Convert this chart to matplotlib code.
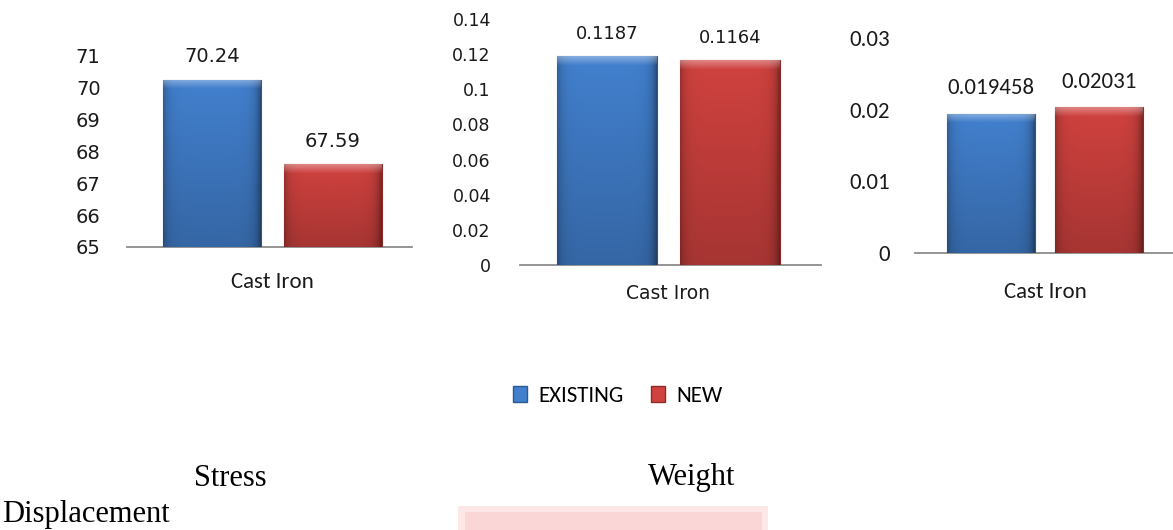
import numpy as np
import matplotlib
matplotlib.use("Agg")
import matplotlib.pyplot as plt
from matplotlib.patches import Patch, Rectangle
from matplotlib import font_manager

# ---- data ----
category = ["Cast Iron"]
series_names = ["EXISTING", "NEW"]
stress_vals = [70.24, 67.59]
weight_vals = [0.1187, 0.1164]
disp_vals = [0.019458, 0.02031]
stress_labels = ["70.24", "67.59"]
weight_labels = ["0.1187", "0.1164"]
disp_labels = ["0.019458", "0.02031"]
stress_ticks = [65, 66, 67, 68, 69, 70, 71]
weight_ticks = [0, 0.02, 0.04, 0.06, 0.08, 0.1, 0.12, 0.14]
weight_ticklabels = ["0", "0.02", "0.04", "0.06", "0.08", "0.1", "0.12", "0.14"]
disp_ticks = [0, 0.01, 0.02, 0.03]
disp_ticklabels = ["0", "0.01", "0.02", "0.03"]
bottom_titles = ["Stress", "Weight", "Displacement"]

# ---- styles ----
avail = {f.name for f in font_manager.fontManager.ttflist}
CAL = "Carlito" if "Carlito" in avail else "Lato"
BLUE = np.array([66, 128, 206]) / 255
RED = np.array([208, 66, 63]) / 255
BLUE_EDGE = "#2b5a92"
RED_EDGE = "#8e2a28"

W, H = 1173, 530
fig = plt.figure(figsize=(W / 100, H / 100), dpi=100)


def fx(px):
    return px / W


def fy(py):
    return 1 - py / H


def shade_bar(ax, bar, base):
    x0, y0 = bar.get_x(), bar.get_y()
    w, h = bar.get_width(), bar.get_height()
    p0 = ax.transData.transform((x0, y0))
    p1 = ax.transData.transform((x0 + w, y0 + h))
    hpx = abs(p1[1] - p0[1])
    wpx = abs(p1[0] - p0[0])
    ny, nx = int(max(hpx, 20)), int(max(wpx, 20))
    u = np.linspace(0, 1, nx)[None, :]
    v = np.linspace(1, 0, ny)[:, None]  # 1 at top row
    f = 0.80 + 0.20 * v
    edge_w = 5.0 / wpx
    e = 1 - 0.25 * np.exp(-u / edge_w) - 0.40 * np.exp(-(1 - u) / edge_w)
    img = base[None, None, :] * (f * e)[:, :, None]
    # soft top bevel: lighter band fading downward over ~9 px
    dtop = (1 - v) * hpx  # pixels from top
    glow = np.clip(1 - dtop / 9.0, 0, 1) * 0.35
    glow = np.broadcast_to(glow, (ny, nx))
    img = img * (1 - glow[:, :, None]) + glow[:, :, None] * 1.0
    img = np.clip(img, 0, 1)
    im = ax.imshow(img, extent=[x0, x0 + w, y0, y0 + h], aspect="auto",
                   zorder=bar.get_zorder() + 0.1, interpolation="bilinear")
    im.set_clip_path(bar)


def panel(rect, vals, labels, ticks, ticklabels, xlim, offset, width,
          tick_font, tick_size, tick_pad, lab_font, lab_size, lab_gap,
          cat_font, cat_size, cat_pad, ylim):
    ax = fig.add_axes(rect)
    ax.set_xlim(*xlim)
    ax.set_ylim(*ylim)
    bottom = ylim[0]
    xs = [-offset, offset]
    bars = []
    for x, v, c, ec in zip(xs, vals, [BLUE, RED], [BLUE_EDGE, RED_EDGE]):
        b = ax.bar(x, v - bottom, width=width, bottom=bottom, color=c,
                   edgecolor=ec, linewidth=0.8, zorder=2)[0]
        bars.append(b)
    for b, c in zip(bars, [BLUE, RED]):
        shade_bar(ax, b, c)
    ax.set_xlim(*xlim)
    ax.set_ylim(*ylim)
    for b, t in zip(bars, labels):
        ax.annotate(t, (b.get_x() + b.get_width() / 2, b.get_y() + b.get_height()),
                    xytext=(0, lab_gap), textcoords="offset points",
                    ha="center", va="bottom", fontsize=lab_size,
                    family=lab_font, color="#1a1a1a", zorder=5)
    for s in ["top", "right", "left"]:
        ax.spines[s].set_visible(False)
    ax.spines["bottom"].set_color("#8c8c8c")
    ax.spines["bottom"].set_linewidth(1.3)
    ax.spines["bottom"].set_zorder(1)
    ax.set_yticks(ticks)
    ax.set_yticklabels(ticklabels, fontsize=tick_size, family=tick_font,
                       color="#1a1a1a")
    ax.tick_params(axis="y", length=0, pad=tick_pad)
    ax.set_xticks([0])
    ax.set_xticklabels(category, fontsize=cat_size, family=cat_font,
                       color="#1a1a1a")
    ax.tick_params(axis="x", length=0, pad=cat_pad)
    ax.patch.set_alpha(0)
    return ax


# Stress panel
panel([fx(127), fy(247), fx(285), (247 - 55.7) / H], stress_vals, stress_labels,
      stress_ticks, [str(t) for t in stress_ticks], (-145.5, 139.5), 60.25, 98,
      "DejaVu Sans", 14, 19, "DejaVu Sans", 14, 10,
      CAL, 16.5, 18, (65, 71))

# Weight panel
panel([fx(520), fy(265), fx(301), (265 - 19) / H], weight_vals, weight_labels,
      weight_ticks, weight_ticklabels, (-148.5, 152.5), 61.5, 100,
      "DejaVu Sans", 12.5, 21, "DejaVu Sans", 13, 10,
      "DejaVu Sans", 13.5, 14, (0, 0.14))

# Displacement panel
panel([fx(915), fy(253), fx(258), (253 - 38) / H], disp_vals, disp_labels,
      disp_ticks, disp_ticklabels, (-130, 128), 54, 88,
      CAL, 16.5, 18, CAL, 16.5, 11,
      CAL, 16.5, 21, (0, 0.03))

# legend
handles = [Patch(facecolor=BLUE, edgecolor=BLUE_EDGE, label=series_names[0]),
           Patch(facecolor=RED, edgecolor=RED_EDGE, label=series_names[1])]
fig.legend(handles=handles, loc="center", bbox_to_anchor=(fx(618), fy(396)),
           ncol=2, frameon=False, prop={"family": CAL, "size": 16.5},
           handlelength=0.6, handleheight=0.68, handletextpad=0.5,
           columnspacing=1.2, borderpad=0)

# bottom document text
fig.text(fx(194), fy(486), bottom_titles[0], family="Liberation Serif",
         fontsize=22, va="baseline", ha="left", color="black")
fig.text(fx(648), fy(485), bottom_titles[1], family="Liberation Serif",
         fontsize=22, va="baseline", ha="left", color="black")
fig.text(fx(2), fy(522), bottom_titles[2], family="Liberation Serif",
         fontsize=22, va="baseline", ha="left", color="black")

# faint watermark at the bottom
fig.patches.append(Rectangle((fx(458), 0), fx(310), 24 / H, transform=fig.transFigure,
                             facecolor="#fde7e7", edgecolor="none", zorder=0))
fig.patches.append(Rectangle((fx(465), 0), fx(297), 18 / H, transform=fig.transFigure,
                             facecolor="#fbd6d6", edgecolor="none", zorder=0))

fig.savefig("out.png", dpi=100)
